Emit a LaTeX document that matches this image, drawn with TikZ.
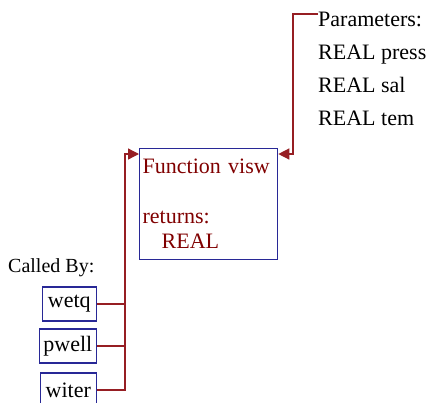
\documentclass[tikz,border=0pt]{standalone}
\usepackage{fontspec}
\setmainfont{Liberation Serif}
\usetikzlibrary{arrows.meta}
\definecolor{fnred}{RGB}{128,0,0}
\definecolor{linkred}{RGB}{150,30,35}
\definecolor{boxblue}{RGB}{40,40,150}
\begin{document}
\begin{tikzpicture}[x=1pt, y=-1pt, every node/.style={font=\fontsize{22}{25}\selectfont},
  fnbox/.style={draw=boxblue, line width=1.3pt, text=fnred, align=left, anchor=north west,
    minimum width=138pt, minimum height=111pt, text width=132pt, inner xsep=2pt},
  caller/.style={draw=boxblue, line width=1.3pt, anchor=east, minimum height=34pt, inner xsep=3pt},
  conn/.style={draw=linkred, line width=1.3pt},
  tip/.style={-{Triangle[length=11pt,width=11pt]}}]
\useasboundingbox (0,0) rectangle (430,402);
\node[fnbox] (visw) at (139,148) {Function visw\\[25pt]returns:\\\hspace*{19pt}REAL};
\node[anchor=base west,inner sep=0,font=\fontsize{20}{25}\selectfont] (calledby) at (8,272) {Called By:};
\node[caller,minimum width=54pt] (wetq) at (97,304) {wetq};
\node[caller,minimum width=57pt] (pwell) at (97,346) {pwell};
\node[caller,minimum width=56pt] (witer) at (97,390) {witer};
\node[anchor=north west,inner sep=0,align=left,font=\fontsize{22}{33}\selectfont] (params) at (318,12) {Parameters:\\REAL press\\REAL sal\\REAL tem};
\coordinate (bus) at (125,154);
\coordinate (pbus) at (293,14);
\draw[conn,tip] (witer.east) -| (bus) -- (bus -| visw.west);
\draw[conn] (wetq.east) -- (wetq.east -| bus);
\draw[conn] (pwell.east) -- (pwell.east -| bus);
\draw[conn,tip] (params.north west |- pbus) -- (pbus) |- (visw.east |- bus);
\end{tikzpicture}
\end{document}
